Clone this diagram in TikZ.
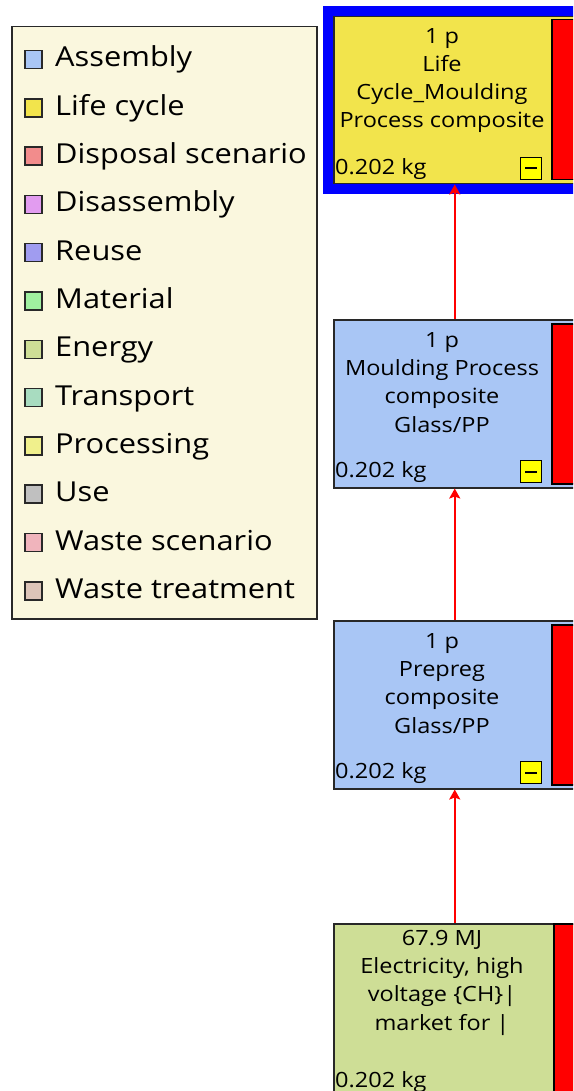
\documentclass[tikz,border=0pt]{standalone}
\usepackage{fontspec}
\setmainfont[FakeStretch=1.12]{Open Sans}
\usetikzlibrary{arrows.meta}
\definecolor{legbg}{RGB}{250,247,222}
\definecolor{cAssembly}{RGB}{169,198,245}
\definecolor{cLife}{RGB}{242,228,76}
\definecolor{cDisposal}{RGB}{242,140,140}
\definecolor{cDisassembly}{RGB}{226,156,240}
\definecolor{cReuse}{RGB}{160,156,240}
\definecolor{cMaterial}{RGB}{160,240,160}
\definecolor{cEnergy}{RGB}{206,222,150}
\definecolor{cTransport}{RGB}{168,220,192}
\definecolor{cProcessing}{RGB}{240,240,140}
\definecolor{cUse}{RGB}{192,192,192}
\definecolor{cWasteSc}{RGB}{240,180,188}
\definecolor{cWasteTr}{RGB}{220,196,184}
\definecolor{frameblue}{RGB}{0,0,255}
\definecolor{barred}{RGB}{255,0,0}
\definecolor{minusyellow}{RGB}{255,255,0}
\definecolor{edge}{RGB}{40,40,40}
\begin{document}
\begin{tikzpicture}[x=1pt,y=-1pt,
  legendbox/.style={draw=edge,line width=1.5pt,fill=legbg,anchor=north west,inner sep=0pt},
  swatch/.style={draw=edge,line width=1.5pt,minimum width=17pt,minimum height=18pt,inner sep=0pt},
  legtext/.style={anchor=base west,inner sep=0pt,font=\fontsize{27.5}{30}\selectfont},
  procbox/.style={draw=edge,line width=1.5pt,anchor=north west,inner sep=0pt,minimum width=242pt},
  redbar/.style={draw=black,line width=1.5pt,fill=barred,anchor=north west,inner sep=0pt,minimum width=40pt},
  boxtext/.style={inner sep=0pt,align=center,font=\fontsize{21}{28.3}\selectfont},
  masstext/.style={anchor=base west,inner sep=0pt,font=\fontsize{21}{28}\selectfont},
  minusbox/.style={draw=black,line width=1.5pt,fill=minusyellow,minimum width=21pt,minimum height=22pt,inner sep=0pt},
  flow/.style={draw=barred,line width=2pt,-{Stealth[length=10pt,width=11pt,inset=2pt]}}
]
\useasboundingbox (0,0) rectangle (573,1091);
\clip (0,0) rectangle (573,1091);

% legend
\node[legendbox,minimum width=305pt,minimum height=592pt] (legend) at (11,26) {};
\foreach \nm/\col [count=\i] in {Assembly/cAssembly,Life cycle/cLife,Disposal scenario/cDisposal,Disassembly/cDisassembly,Reuse/cReuse,Material/cMaterial,Energy/cEnergy,Transport/cTransport,Processing/cProcessing,Use/cUse,Waste scenario/cWasteSc,Waste treatment/cWasteTr}{
  \node[swatch,fill=\col] (sw\i) at (33.5,{59.5+(\i-1)*48.3}) {};
  \node[legtext] (lt\i) at (55,{67+(\i-1)*48.3}) {\nm};
}

% top node: life cycle
\draw[frameblue,line width=10pt] (328,11) rectangle (600,189);
\node[procbox,fill=cLife,minimum height=167pt] (top) at (333,16) {};
\node[redbar,minimum height=160pt] (topbar) at (551,19) {};
\node[boxtext,anchor=base] (toptxt) at (442,128) {1 p\\Life\\Cycle\_Moulding\\Process composite};
\node[masstext] (topmass) at (335,175) {0.202 kg};
\node[minusbox] (topmin) at (531,168.5) {};
\draw[black,line width=2pt] ([xshift=-6pt]topmin.center) -- ([xshift=6pt]topmin.center);

% moulding
\node[procbox,fill=cAssembly,minimum height=168pt] (mould) at (333,319) {};
\node[redbar,minimum height=160pt] (mouldbar) at (551,323) {};
\node[boxtext,anchor=base] (mouldtxt) at (442,432) {1 p\\Moulding Process\\composite\\Glass/PP};
\node[masstext] (mouldmass) at (335,477) {0.202 kg};
\node[minusbox] (mouldmin) at (531,471.5) {};
\draw[black,line width=2pt] ([xshift=-6pt]mouldmin.center) -- ([xshift=6pt]mouldmin.center);

% prepreg
\node[procbox,fill=cAssembly,minimum height=168pt] (prep) at (333,620) {};
\node[redbar,minimum height=160pt] (prepbar) at (551,624) {};
\node[boxtext,anchor=base] (preptxt) at (442,733) {1 p\\Prepreg\\composite\\Glass/PP};
\node[masstext] (prepmass) at (335,778) {0.202 kg};
\node[minusbox] (prepmin) at (531,772.5) {};
\draw[black,line width=2pt] ([xshift=-6pt]prepmin.center) -- ([xshift=6pt]prepmin.center);

% electricity
\node[procbox,fill=cEnergy,minimum height=200pt] (elec) at (333,923) {};
\node[redbar,minimum height=200pt] (elecbar) at (553,923) {};
\node[boxtext,anchor=base,fill=cEnergy,inner xsep=3pt,inner ysep=2pt] (electxt) at (442,945) {67.9 MJ};
\node[boxtext,anchor=base] (electxt2) at (442,1030) {Electricity, high\\voltage \{CH\}|\\market for |};
\node[masstext,fill=cEnergy,inner ysep=3pt] (elecmass) at (335,1087) {0.202 kg};

% connectors
\draw[flow] (mould.north) -- (top.south);
\draw[flow] (prep.north) -- (mould.south);
\draw[flow] (elec.north) -- (prep.south);
\end{tikzpicture}
\end{document}
